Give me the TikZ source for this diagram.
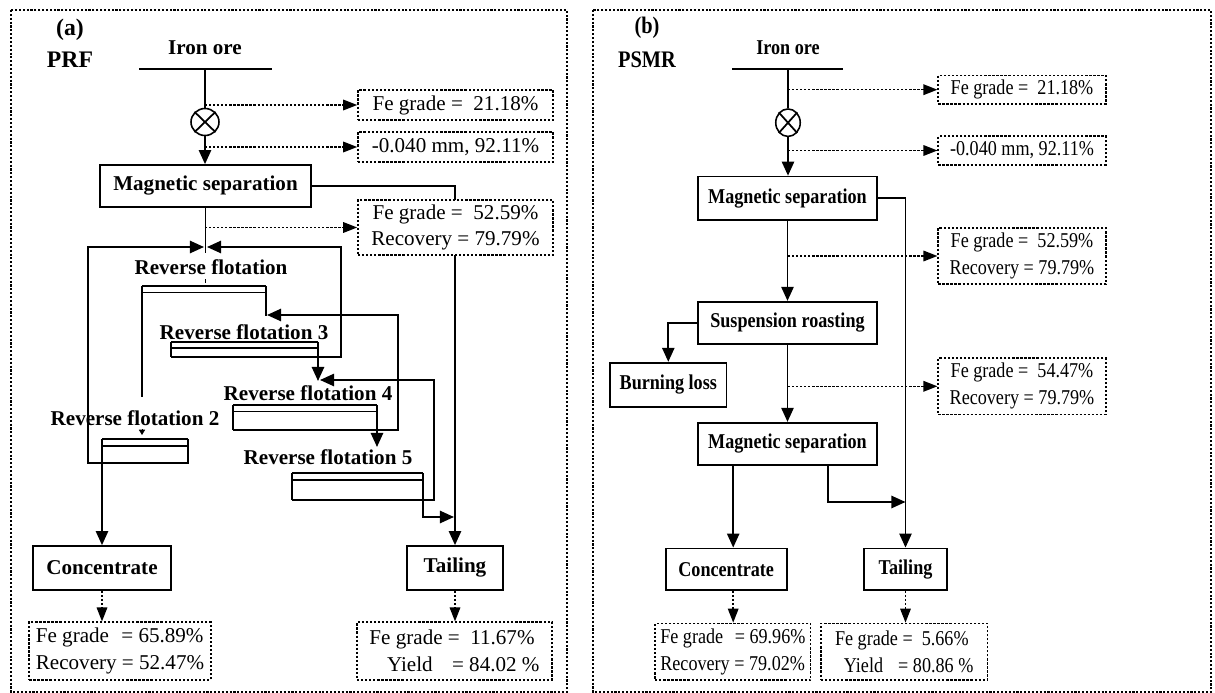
\documentclass[tikz,border=0pt]{standalone}
\usepackage{fontspec}
\setmainfont{Liberation Serif}
\newfontfamily\narrowserif[FakeStretch=0.86]{Liberation Serif}
\usetikzlibrary{arrows.meta}
\usetikzlibrary{shapes.geometric}
\usetikzlibrary{calc}

\newcommand\pfam{\rmfamily}
\tikzset{
  line/.style={line width=1pt},
  flow/.style={line width=1pt, -{Triangle[length=8pt,width=7pt]}},
  dflow/.style={line width=0.9pt, dash pattern=on 1.3pt off 1pt, -{Triangle[length=8pt,width=6pt]}},
  frame/.style={line width=1.2pt, dash pattern=on 1.2pt off 1pt},
  proc/.style={draw, line width=1pt, inner sep=1pt, font=\pfam\bfseries\fontsize{12}{15}\selectfont},
  data/.style={draw, fill=white, line width=0.9pt, dash pattern=on 1.3pt off 1pt, inner sep=1pt, align=center, font=\pfam\fontsize{12}{15.3}\selectfont},
  tag/.style={inner sep=0pt, font=\pfam\bfseries\fontsize{13.5}{16}\selectfont},
  lbl/.style={inner sep=0pt, font=\pfam\bfseries\fontsize{12}{15}\selectfont},
  mix/.style={draw, ellipse, line width=0.9pt, inner sep=0pt},
}

\begin{document}
\begin{tikzpicture}[x=0.02cm, y=-0.02cm]
\useasboundingbox (0,0) rectangle (1215,693);

% ---------------- (a) PRF
\node[tag] (alab) at (70,30) {(a)};
\node[tag] (aname) at (70,60) {PRF};
\node[lbl] (aore) at (205,48) {Iron ore};
\coordinate (afeedL) at (139,69);
\coordinate (afeedR) at (272,69);
\coordinate (afeed) at (205,69);
\node[mix, minimum width=0.56cm, minimum height=0.54cm] (amix) at (205,122) {};
\node[proc, minimum width=4.22cm, minimum height=0.84cm] (ams) at (205.5,186) {Magnetic separation};
\node[proc, minimum width=2.75cm, minimum height=0.88cm] (acon) at (102,568) {Concentrate};
\node[proc, minimum width=1.92cm, minimum height=0.88cm] (atail) at (455,568) {Tailing};

\draw[line] (afeedL) -- (afeedR);
\draw[line] (afeed) -- (amix.north);
\draw[line] (amix.north west) -- (amix.south east) (amix.north east) -- (amix.south west);
\draw[flow] (amix.south) -- (amix.south |- ams.north);
\draw[flow] (ams.east) -| (atail.north);
\draw[line] (ams.south) -- (205.5,253);

% flotation labels
\node[lbl] (arf1) at (211,267) {Reverse flotation};
\node[lbl] (arf3) at (244,332) {Reverse flotation 3};
\node[lbl] (arf4) at (308,393) {Reverse flotation 4};
\node[lbl] (arf5) at (328,457) {Reverse flotation 5};
\node[lbl] (arf2) at (135,418) {Reverse flotation 2};

% cells, double top line
\draw[line] (142,286) -- (266,286);
\draw[line] (142,292.5) -- (266,292.5);
\draw[line] (171,342) -- (318,342);
\draw[line] (171,348) -- (318,348);
\draw[line] (233,405) -- (377,405);
\draw[line] (233,411.5) -- (377,411.5);
\draw[line] (292,473) -- (423,473);
\draw[line] (292,480) -- (423,480);
\draw[line] (102,439) -- (188,439);
\draw[line] (102,446) -- (188,446);

% cell sides
\draw[line] (142,286) -- (142,397);
\draw[line] (266,286) -- (266,316);
\draw[line] (171,342) -- (171,357);
\draw[line] (233,405) -- (233,430);
\draw[line] (292,473) -- (292,500);
\draw[line] (188,439) -- (188,464);
\draw[line] (205.5,279) -- (205.5,283);
\draw[-{Triangle[length=3pt,width=3.5pt]}] (142,429) -- (142,435);

% down the circuit
\draw[flow] (318,342) -- (318,381);
\draw[flow] (377,405) -- (377,447);
\draw[flow] (423,473) -- (423,517) -- (454,517);
\draw[flow] (acon.north |- 0,439) -- (acon.north);

% returns
\draw[flow] (188,463) -- (88,463) -- (88,247) -- (204,247);
\draw[flow] (171,357) -- (341,357) -- (341,247) -- (207,247);
\draw[flow] (233,430) -- (398,430) -- (398,315) -- (267,315);
\draw[flow] (292,500) -- (434,500) -- (434,380) -- (320,380);

% data
\node[data, minimum width=3.9cm, minimum height=0.6cm] (ad1) at (455.5,105) {Fe grade =\ \ 21.18\%};
\node[data, minimum width=3.9cm, minimum height=0.6cm] (ad2) at (455.5,147) {-0.040 mm, 92.11\%};
\node[data, minimum width=3.9cm, minimum height=1.1cm] (ad3) at (455.5,227.5) {Fe grade =\ \ 52.59\%\\Recovery = 79.79\%};
\node[data, align=left, minimum width=3.63cm, minimum height=1.15cm] (acres) at (120,651) {Fe grade\hspace{4pt} = 65.89\%\\Recovery = 52.47\%};
\node[data, align=left, minimum width=3.9cm, minimum height=1.15cm] (atres) at (454.5,651) {Fe grade =\ \ 11.67\%\\\hspace*{10pt}Yield\hspace{8pt} = 84.02 \%};

\draw[dflow] (amix |- ad1.west) -- (ad1.west);
\draw[dflow] (amix |- ad2.west) -- (ad2.west);
\draw[dflow] (amix |- ad3.west) -- (ad3.west);
\draw[dflow] (acon.south) -- (acon.south |- acres.north);
\draw[dflow] (atail.south) -- (atail.south |- atres.north);

% ---------------- (b) PSMR
\begin{scope}
\renewcommand\pfam{\narrowserif}
\node[tag] (blab) at (647,28) {(b)};
\node[tag] (bname) at (647,60) {PSMR};
\node[lbl] (bore) at (788,48) {Iron ore};
\coordinate (bfeedL) at (732,69);
\coordinate (bfeedR) at (843,69);
\coordinate (bfeed) at (788,69);
\node[mix, minimum width=0.49cm, minimum height=0.55cm] (bmix) at (788,122.7) {};
\node[proc, minimum width=3.59cm, minimum height=0.87cm] (bms) at (787.5,198.3) {Magnetic separation};
\node[proc, minimum width=3.59cm, minimum height=0.85cm] (bsr) at (787.5,323) {Suspension roasting};
\node[proc, minimum width=2.33cm, minimum height=0.88cm] (bbl) at (668.3,384.7) {Burning loss};
\node[proc, minimum width=3.59cm, minimum height=0.85cm] (bms2) at (787.5,444) {Magnetic separation};
\node[proc, minimum width=2.42cm, minimum height=0.83cm] (bcon) at (726.2,569.2) {Concentrate};
\node[proc, minimum width=1.65cm, minimum height=0.83cm] (btail) at (905.5,569.2) {Tailing};
\coordinate (bsplit) at (828,502);
\coordinate (bcx) at ([xshift=0.14cm]bcon.north);

\draw[line] (bfeedL) -- (bfeedR);
\draw[line] (bfeed) -- (bmix.north);
\draw[line] (bmix.north west) -- (bmix.south east) (bmix.north east) -- (bmix.south west);
\draw[flow] (bmix.south) -- (bmix.south |- bms.north);
\draw[flow] (bms.east) -| (btail.north);
\draw[flow] (bms.south) -- (bsr.north);
\draw[flow] (bsr.west) -| (bbl.north);
\draw[flow] (bsr.south) -- (bms2.north);
\draw[flow] (bms2.south -| bcx) -- (bcx);
\draw[flow] (bms2.south -| bsplit) -- (bsplit) -- (bsplit -| btail.north);

% data
\node[data, minimum width=3.35cm, minimum height=0.57cm] (bd1) at (1022,89.7) {Fe grade =\ \ 21.18\%};
\node[data, minimum width=3.35cm, minimum height=0.57cm] (bd2) at (1022,150.5) {-0.040 mm, 92.11\%};
\node[data, minimum width=3.35cm, minimum height=1.13cm] (bd3) at (1022,256) {Fe grade =\ \ 52.59\%\\Recovery = 79.79\%};
\node[data, minimum width=3.35cm, minimum height=1.13cm] (bd4) at (1022,386.3) {Fe grade =\ \ 54.47\%\\Recovery = 79.79\%};
\node[data, align=left, minimum width=3.11cm, minimum height=1.13cm] (bcres) at (732.9,651.7) {Fe grade\hspace{4pt} = 69.96\%\\Recovery = 79.02\%};
\node[data, align=left, minimum width=3.33cm, minimum height=1.13cm] (btres) at (904.2,651.7) {Fe grade =\ \ 5.66\%\\\hspace*{5pt}Yield\hspace{6pt} = 80.86 \%};

\draw[dflow] (bmix |- bd1.west) -- (bd1.west);
\draw[dflow] (bmix |- bd2.west) -- (bd2.west);
\draw[dflow] (bmix |- bd3.west) -- (bd3.west);
\draw[dflow] (bmix |- bd4.west) -- (bd4.west);
\draw[dflow] (bcx |- bcon.south) -- (bcx |- bcres.north);
\draw[dflow] (btail.south) -- (btail.south |- btres.north);
\end{scope}

% frames
\draw[frame] (11,10) rectangle (567,692);
\draw[frame] (593,10) rectangle (1211,692);
\end{tikzpicture}
\end{document}
